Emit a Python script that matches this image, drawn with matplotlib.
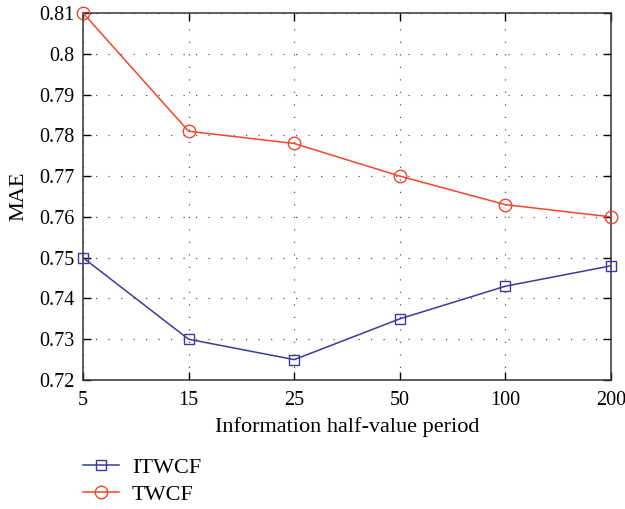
import matplotlib
matplotlib.use("Agg")
import matplotlib.pyplot as plt
import numpy as np

periods = ["5", "15", "25", "50", "100", "200"]
itwcf = [0.750, 0.730, 0.725, 0.735, 0.743, 0.748]
twcf = [0.810, 0.781, 0.778, 0.770, 0.763, 0.760]

plt.rcParams['font.family'] = ['Liberation Serif', 'DejaVu Serif']
plt.rcParams['font.size'] = 14.5

fig = plt.figure(figsize=(6.25, 5.09), dpi=100)
ax = fig.add_axes([0.1328, 0.2534, 0.8448, 0.7211])

x = np.arange(len(periods))
blue = '#3b3a9a'
red = '#f0472e'

ax.plot(x, itwcf, color=blue, marker='s', markersize=7, markerfacecolor='none',
        markeredgecolor=blue, linewidth=1.1, label='ITWCF', clip_on=False, zorder=3)
ax.plot(x, twcf, color=red, marker='o', markersize=9, markerfacecolor='none',
        markeredgecolor=red, linewidth=1.1, label='TWCF', clip_on=False, zorder=3)

ax.set_xlim(0, len(periods) - 1)
ax.set_ylim(0.72, 0.81)
ax.set_xticks(x)
ax.set_xticklabels(periods)
ax.set_yticks(np.arange(0.72, 0.8101, 0.01))
ax.set_yticklabels(["0.72", "0.73", "0.74", "0.75", "0.76", "0.77", "0.78", "0.79", "0.8", "0.81"])

ax.tick_params(direction='in', top=True, right=True, length=6, width=1, pad=6,
               labelsize=14.5)
ax.tick_params(axis='x', pad=8)
for s in ax.spines.values():
    s.set_linewidth(1.1)
    s.set_color('#333333')

ax.grid(True, linestyle=(0, (1, 9)), color='#555555', linewidth=0.9)

ax.set_xlabel("Information half-value period", labelpad=5, fontsize=16)
ax.set_ylabel("MAE", labelpad=8, fontsize=16)

fig.legend(loc='upper left', bbox_to_anchor=(0.1185, 0.1195), frameon=False,
           handlelength=1.6, labelspacing=0.3, handletextpad=0.6, borderaxespad=0,
           fontsize=16)

fig.savefig("out.png", dpi=100)
